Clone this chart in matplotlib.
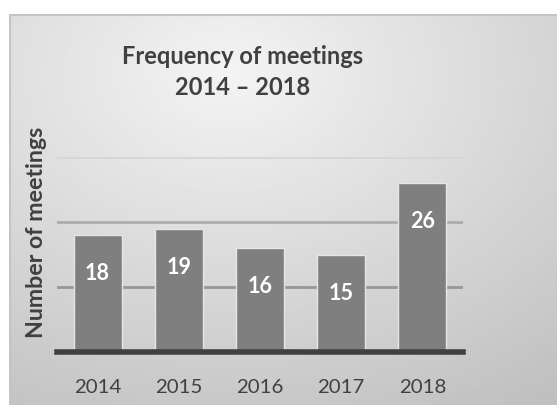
import numpy as np
import matplotlib
matplotlib.use("Agg")
import matplotlib.pyplot as plt

years = ["2014", "2015", "2016", "2017", "2018"]
meetings = [18, 19, 16, 15, 26]
title = "Frequency of meetings\n2014 \u2013 2018"
ylabel = "Number of meetings"

plt.rcParams['font.family'] = ['Lato', 'DejaVu Sans']

W, H = 557, 406
fig = plt.figure(figsize=(W / 100, H / 100), dpi=100)
fig.patch.set_facecolor("white")

# gradient backdrop (chart area starts at x=9, y=15)
x0, y0 = 9, 15
bg = fig.add_axes([x0 / W, 0, 1 - x0 / W, 1 - y0 / H])
bg.set_axis_off()
yy, xx = np.mgrid[0:1:200j, 0:1:200j]
d = np.sqrt(((xx - 0.4) * 1.0) ** 2 + ((yy - 0.15) * 1.0) ** 2)
grad = 0.955 - 0.2 * d
bg.imshow(grad, cmap="gray", vmin=0, vmax=1, aspect="auto",
          extent=[0, 1, 1, 0], interpolation="bilinear")
bg.plot([0.001, 0.001], [0, 1], color="#c4c4c4", lw=1.5, transform=bg.transAxes)
bg.plot([0, 1], [0.998, 0.998], color="#c4c4c4", lw=1.5, transform=bg.transAxes)
bg.set_xlim(0, 1)
bg.set_ylim(1, 0)

# plot area
left, right, base, top = 57, 463, 353, 158
ax = fig.add_axes([left / W, 1 - base / H, (right - left) / W, (base - top) / H])
ax.patch.set_alpha(0)
x = np.arange(len(years))
bars = ax.bar(x, meetings, width=0.59, color="#7f7f7f", edgecolor="#e6e6e6",
              linewidth=1.0, zorder=3)
ax.set_xlim(-0.5, len(years) - 0.5)
ax.set_ylim(0, 30)
ax.set_yticks([10, 20, 30])
ax.yaxis.grid(True, lw=2, zorder=1)
for gl, c in zip(ax.get_ygridlines(), ["#979797", "#adadad", "#d6d6d6"]):
    gl.set_color(c)
ax.tick_params(axis="y", left=False, labelleft=False)
ax.tick_params(axis="x", bottom=False, labelsize=14.7, labelcolor="#404040", pad=15)
ax.set_xticks(x)
ax.set_xticklabels(years)
for s in ["top", "right", "left"]:
    ax.spines[s].set_visible(False)
ax.spines["bottom"].set_color("#404040")
ax.spines["bottom"].set_linewidth(4)
ax.spines["bottom"].set_zorder(4)

for b, v in zip(bars, meetings):
    ax.annotate(str(v), (b.get_x() + b.get_width() / 2, v), xytext=(0, -27),
                textcoords="offset points", ha="center", va="center",
                color="white", fontsize=15.5, fontweight="bold", zorder=5)

fig.text(243 / W, 1 - 72 / H, title, ha="center", va="center", fontsize=17,
         fontweight="bold", color="#404040", linespacing=1.45)
fig.text(37 / W, 1 - 232 / H, ylabel, ha="center", va="center", rotation=90,
         fontsize=16.7, fontweight="bold", color="#404040")

fig.savefig("out.png", dpi=100)
